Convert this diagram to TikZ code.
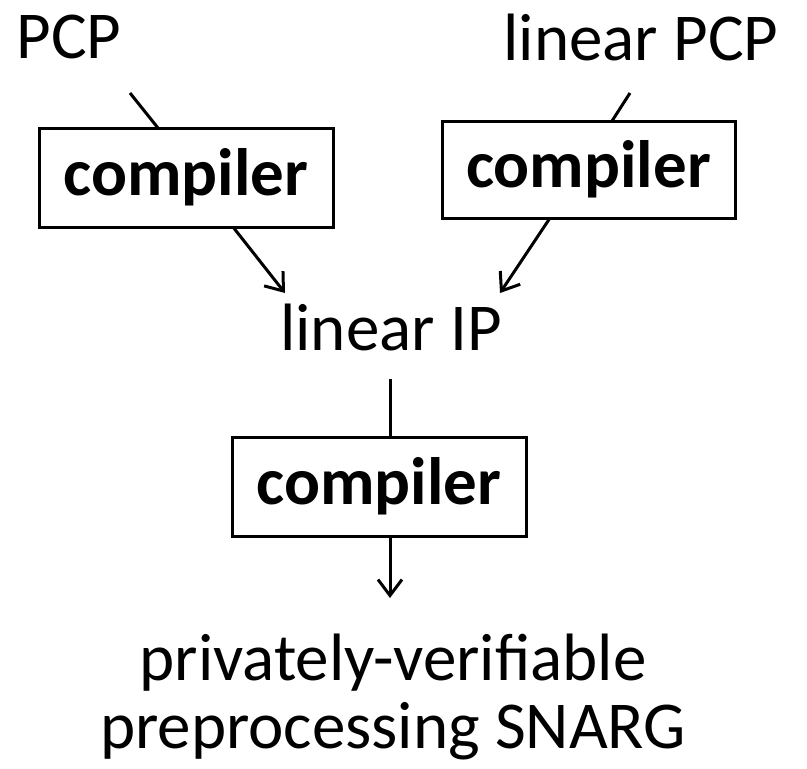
\documentclass[tikz,border=0pt]{standalone}
\usepackage{fontspec}
\setmainfont{Carlito}
\usetikzlibrary{arrows.meta}
\begin{document}
\begin{tikzpicture}[x=1pt,y=-1pt,
  label/.style={inner sep=0pt,anchor=base,font=\fontsize{67}{68}\selectfont},
  compbox/.style={draw,line width=3pt,inner sep=0pt,minimum width=294pt,minimum height=99pt,
    font=\fontsize{67}{68}\selectfont\bfseries},
  link/.style={line width=3pt},
  arr/.style={line width=3pt,-{Straight Barb[length=16pt,width=24pt,line width=3pt]}}]
\useasboundingbox (0,0) rectangle (807,769);
% source and target labels
\node[label] (pcp) at (69,58) {PCP};
\node[label] (lpcp) at (641,60) {linear PCP};
\node[label] (lip) at (391,350) {linear IP};
\node[label,align=center] (snarg) at (393,748) {privately-verifiable\\preprocessing SNARG};
% compiler boxes
\node[compbox] (c1) at (186,177.5) {compiler};
\node[compbox,minimum width=293pt,minimum height=97pt] (c2) at (588.5,169.5) {compiler};
\node[compbox] (c3) at (379,486.5) {compiler};
% connector end points
\coordinate (p1) at (130,93);
\coordinate (p1in) at (158,128);
\coordinate (p1out) at (233,227);
\coordinate (t1) at (285,293);
\coordinate (p2) at (630,93);
\coordinate (p2in) at (612,121);
\coordinate (p2out) at (550,218);
\coordinate (t2) at (500,293);
\coordinate (p3) at (390,379);
\coordinate (t3) at (390,598);
% connectors
\draw[link] (p1) -- (p1in);
\draw[arr] (p1out) -- (t1);
\draw[link] (p2) -- (p2in);
\draw[arr] (p2out) -- (t2);
\draw[link] (p3) -- (c3.north -| p3);
\draw[arr] (c3.south -| p3) -- (t3);
\end{tikzpicture}
\end{document}
